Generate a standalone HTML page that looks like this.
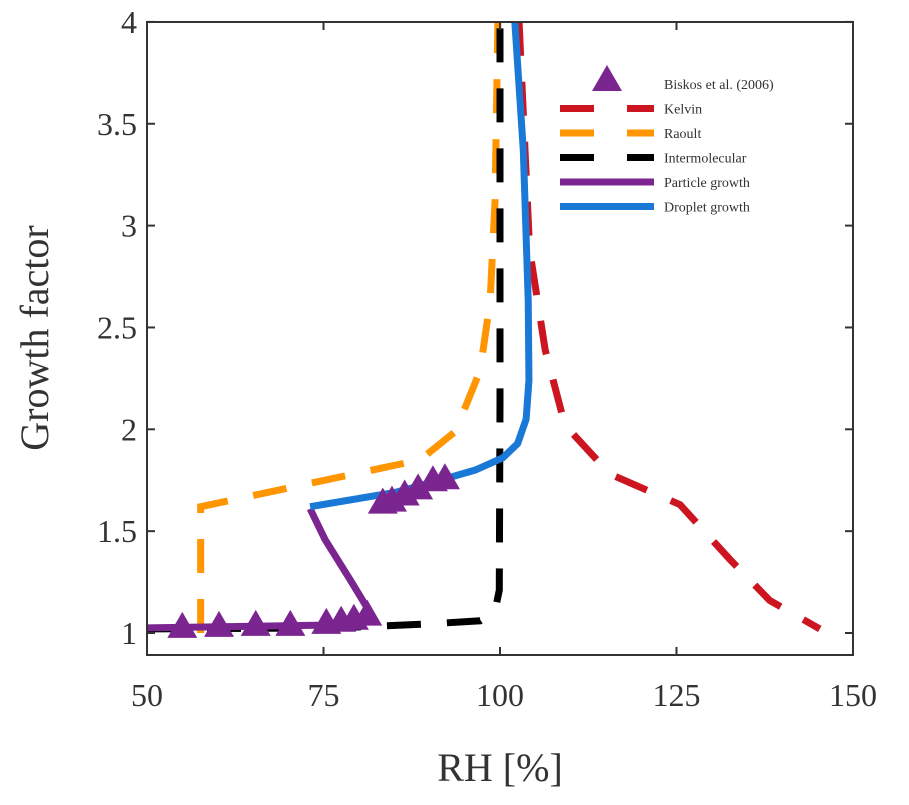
<!DOCTYPE html>
<html><head><meta charset="utf-8"><style>
body{margin:0;background:#fff}
svg text{font-family:"Liberation Serif",serif;fill:#333}
</style></head><body>
<svg id="chart" width="909" height="800">
<g id="marks"></g>
<text x="500" y="781" text-anchor="middle" font-size="40">RH [%]</text>
<text transform="translate(48,338) rotate(-90)" text-anchor="middle" font-size="40">Growth factor</text>
</svg>
<script>
const xTicks=[50,75,100,125,150];
const yTicks=[1,1.5,2,2.5,3,3.5,4];
const kelvinX=[102.7,104.2,106.4,109.2,115.6,125.5,132.6,138.2,145.3];
const kelvinY=[4,2.88,2.39,2.02,1.78,1.63,1.36,1.16,1.02];
const raoultX=[57.6,57.6,88.7,93.7,97.2,98.6,99.3,99.7];
const raoultY=[1,1.62,1.85,1.99,2.29,2.63,3.12,4];
const interX=[50,77,80.2,90.1,97.2,99.3,99.9,100,100];
const interY=[1.02,1.025,1.03,1.045,1.06,1.11,1.21,2.14,4];
const partX=[50,77.3,81.6,78.8,75.2,73.1];
const partY=[1.025,1.04,1.10,1.26,1.46,1.61];
const dropX=[73.1,85.1,91.5,96.5,100.4,102.5,103.7,104.1,104,103.3,102.1];
const dropY=[1.62,1.69,1.75,1.80,1.86,1.93,2.05,2.24,2.63,3.37,4];
const obsX=[55,60.2,65.4,70.3,75.4,77.5,79.3,81.2,83.4,84.7,86.5,88.4,90.5,92.2];
const obsY=[1.03,1.035,1.04,1.04,1.05,1.06,1.07,1.09,1.64,1.65,1.68,1.71,1.75,1.76];

const L=147,R=853,T=22,B=655;
const px=x=>L+(x-50)*(R-L)/100;
const py=y=>633-(y-1)*203.7;
const NS='http://www.w3.org/2000/svg';
const svg=document.getElementById('chart');
const g=document.getElementById('marks');
function mk(t,a,p){const e=document.createElementNS(NS,t);for(const k in a)e.setAttribute(k,a[k]);(p||g).appendChild(e);return e;}
const clip=mk('clipPath',{id:'cp'},svg);mk('rect',{x:L,y:T,width:R-L,height:B-T},clip);
function line(xs,ys,color,dash,name){
  const d=xs.map((x,i)=>(i?'L':'M')+px(x)+','+py(ys[i])).join('');
  const e=mk('path',{d:d,fill:'none',stroke:color,'stroke-width':7,'clip-path':'url(#cp)','stroke-dasharray':dash||'none'});
  
  
}
line(kelvinX,kelvinY,'#cc1520','34 26','kelvin-line');
line(raoultX,raoultY,'#ff9500','34 26','raoult-line');
line(interX,interY,'#000','34 26','intermolecular-line');
line(partX,partY,'#7b2590','','particle-growth-line');
line(dropX,dropY,'#1a78d6','','droplet-growth-line');
obsX.forEach((x,i)=>{const cx=px(x),cy=py(obsY[i]);
  const e=mk('polygon',{points:`${cx},${cy-15} ${cx-15},${cy+11} ${cx+15},${cy+11}`,fill:'#7b2590'});
  
  
});
const f=mk('rect',{x:L,y:T,width:R-L,height:B-T,fill:'none',stroke:'#333','stroke-width':2});


xTicks.forEach(v=>{const x=px(v);
  mk('line',{x1:x,x2:x,y1:B,y2:B-8,stroke:'#333','stroke-width':2});
  mk('line',{x1:x,x2:x,y1:T,y2:T+8,stroke:'#333','stroke-width':2});
  const t=mk('text',{x:x,y:706,'text-anchor':'middle','font-size':32});t.textContent=v;
  
  
});
yTicks.forEach(v=>{const y=py(v);
  mk('line',{x1:L,x2:L+8,y1:y,y2:y,stroke:'#333','stroke-width':2});
  mk('line',{x1:R,x2:R-8,y1:y,y2:y,stroke:'#333','stroke-width':2});
  const t=mk('text',{x:137,y:y+11,'text-anchor':'end','font-size':32});t.textContent=v;
  
  
});
const leg=[['Biskos et al. (2006)','tri'],['Kelvin','#cc1520'],['Raoult','#ff9500'],['Intermolecular','#000'],['Particle growth','#7b2590'],['Droplet growth','#1a78d6']];
leg.forEach((it,i)=>{const y=84+i*24.5;
  if(it[1]==='tri'){mk('polygon',{points:'607,65 592,91 622,91',fill:'#7b2590'});}
  else if(i<4){mk('line',{x1:560,x2:594,y1:y,y2:y,stroke:it[1],'stroke-width':7});mk('line',{x1:627,x2:654,y1:y,y2:y,stroke:it[1],'stroke-width':7});}
  else mk('line',{x1:560,x2:654,y1:y,y2:y,stroke:it[1],'stroke-width':7});
  const t=mk('text',{x:664,y:y+5,'font-size':14,fill:'#000'});t.textContent=it[0];
  
  
});
</script>
</body></html>
